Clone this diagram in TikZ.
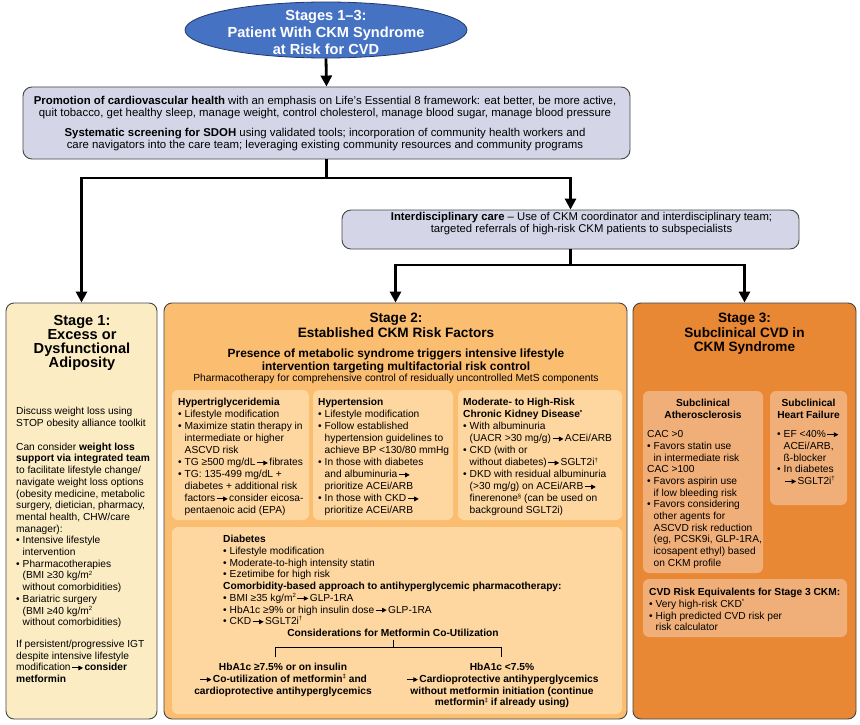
\documentclass[tikz,border=0pt]{standalone}
\usepackage{fontspec}
\setmainfont{Liberation Sans}
\usetikzlibrary{arrows.meta,shapes.geometric}
\definecolor{ellf}{RGB}{70,114,196}
\definecolor{ellb}{RGB}{35,55,105}
\definecolor{mainf}{RGB}{212,214,232}
\definecolor{bordc}{RGB}{70,70,70}
\definecolor{sonef}{RGB}{251,236,196}
\definecolor{stwof}{RGB}{251,189,112}
\definecolor{stwoi}{RGB}{253,214,160}
\definecolor{sthreef}{RGB}{232,135,52}
\definecolor{sthreei}{RGB}{240,175,120}
\newcommand\fbody{\fontsize{10.2pt}{11.7pt}\selectfont}
\newcommand\fbx{\fontsize{10.2pt}{12pt}\selectfont}
\newcommand\fmain{\fontsize{11.4pt}{12pt}\selectfont}
\newcommand\finter{\fontsize{11.3pt}{12pt}\selectfont}
\newcommand\fstage{\fontsize{13.6pt}{14.5pt}\selectfont\bfseries}
\newcommand\fstageone{\fontsize{14.6pt}{14pt}\selectfont\bfseries}
\newcommand\fell{\fontsize{14.6pt}{17pt}\selectfont\bfseries}
\newcommand\fsub{\fontsize{11.9pt}{13pt}\selectfont\bfseries}
\newcommand\fsmall{\fontsize{10.3pt}{12pt}\selectfont}
\newcommand\ra{\kern1pt\tikz[baseline=-0.55ex]\draw[line width=0.9pt,-{Triangle[width=4.6pt,length=4.6pt]}] (0pt,0pt)--(11pt,0pt);\kern1pt}
\newcommand\sps[1]{\raisebox{0.38em}{\fontsize{6pt}{6pt}\selectfont #1}}
\newcommand\bu{\makebox[0.64em][l]{•}}
\newcommand\ii{\hspace*{0.64em}}
\tikzset{
  stagebox/.style={draw=bordc, line width=0.9pt, rounded corners=8pt, inner sep=0pt},
  innerbox/.style={rounded corners=6pt, inner sep=0pt},
  txt/.style={inner sep=0pt, anchor=north west, align=left, font=\fbx},
  ctxt/.style={inner sep=0pt, anchor=north, align=center, font=\fbx},
  conn/.style={line width=2.8pt},
  arr/.style={conn, -{Triangle[width=11pt,length=11pt]}},
}
\begin{document}
\begin{tikzpicture}[x=1pt,y=-1pt]
\useasboundingbox[fill=white] (0,0) rectangle (860,725);

% ---------- top ellipse ----------
\node[ellipse, draw=ellb, fill=ellf, line width=0.8pt, minimum width=282pt, minimum height=56pt, inner sep=0pt] (ell) at (326,30) {};
\node[ctxt, font=\fell, text=white] (ellt) at (326,9.7) {Stages 1–3:\\Patient With CKM Syndrome\\at Risk for CVD};

% ---------- main box ----------
\node[stagebox, fill=mainf, rounded corners=9pt, minimum width=607pt, minimum height=72pt] (main) at (326.5,123) {};
\node[ctxt, font=\fmain] (maint) at (325,95.9) {\textbf{Promotion of cardiovascular health} with an emphasis on Life's Essential 8 framework: eat better, be more active,\\quit tobacco, get healthy sleep, manage weight, control cholesterol, manage blood sugar, manage blood pressure\\[8pt]\textbf{Systematic screening for SDOH} using validated tools; incorporation of community health workers and\\care navigators into the care team; leveraging existing community resources and community programs};

% ---------- interdisciplinary box ----------
\node[stagebox, fill=mainf, rounded corners=9pt, minimum width=457pt, minimum height=39pt] (inter) at (570.5,229.5) {};
\node[ctxt, font=\finter] (intert) at (581.5,211.9) {\textbf{Interdisciplinary care} – Use of CKM coordinator and interdisciplinary team;\\targeted referrals of high-risk CKM patients to subspecialists};

% ---------- stage boxes ----------
\node[stagebox, fill=sonef, minimum width=151pt, minimum height=416pt] (s1) at (81.5,511) {};
\node[stagebox, fill=stwof, minimum width=463pt, minimum height=416pt] (s2) at (395.5,511) {};
\node[stagebox, fill=sthreef, minimum width=223pt, minimum height=416pt] (s3) at (744.5,511) {};

% ---------- connectors ----------
\coordinate (j1) at (326.5,178);
\coordinate (j2) at (570.5,178);
\coordinate (j3) at (570.5,265);
\draw[arr] (ell.south) -- (main.north);
\draw[conn] (main.south) -- (j1);
\draw[arr] (j1) -| (s1.north);
\draw[arr] (j1) -- (j2) -- (inter.north);
\draw[conn] (inter.south) -- (j3);
\draw[arr] (j3) -| (s2.north);
\draw[arr] (j3) -| (s3.north);

% ---------- stage 1 ----------
\node[ctxt, font=\fstageone] (s1t) at (82,314.7) {Stage 1:\\Excess or\\Dysfunctional\\Adiposity};
\node[txt, font=\fbody] (s1b) at (16,407.3) {Discuss weight loss using\\STOP obesity alliance toolkit\\[12pt]Can consider \textbf{weight loss}\\\textbf{support via integrated team}\\to facilitate lifestyle change/\\navigate weight loss options\\(obesity medicine, metabolic\\surgery, dietician, pharmacy,\\mental health, CHW/care\\manager):\\\bu Intensive lifestyle\\\ii intervention\\\bu Pharmacotherapies\\\ii (BMI ≥30 kg/m\sps{2}\\\ii without comorbidities)\\\bu Bariatric surgery\\\ii (BMI ≥40 kg/m\sps{2}\\\ii without comorbidities)\\[10pt]If persistent/progressive IGT\\despite intensive lifestyle\\modification\ra\textbf{consider}\\\textbf{metformin}};

% ---------- stage 2 ----------
\node[ctxt, font=\fstage] (s2t) at (396,313.1) {Stage 2:\\Established CKM Risk Factors};
\node[ctxt, font=\fsub] (s2p) at (396,348.7) {Presence of metabolic syndrome triggers intensive lifestyle\\intervention targeting multifactorial risk control};
\node[ctxt, font=\fsmall] (s2q) at (396,374.3) {Pharmacotherapy for comprehensive control of residually uncontrolled MetS components};

\node[innerbox, fill=stwoi, minimum width=137pt, minimum height=130pt] (b1) at (240.5,455) {};
\node[innerbox, fill=stwoi, minimum width=140pt, minimum height=130pt] (b2) at (383,455) {};
\node[innerbox, fill=stwoi, minimum width=164pt, minimum height=130pt] (b3) at (540,455) {};
\node[innerbox, fill=stwoi, minimum width=450pt, minimum height=187pt] (dia) at (397,620.5) {};

\node[txt] (b1t) at (178,398.3) {\textbf{Hypertriglyceridemia}\\\bu Lifestyle modification\\\bu Maximize statin therapy in\\\ii intermediate or higher\\\ii ASCVD risk\\\bu TG ≥500 mg/dL\ra fibrates\\\bu TG: 135-499 mg/dL +\\\ii diabetes + additional risk\\\ii factors\ra consider eicosa-\\\ii pentaenoic acid (EPA)};
\node[txt] (b2t) at (318,398.3) {\textbf{Hypertension}\\\bu Lifestyle modification\\\bu Follow established\\\ii hypertension guidelines to\\\ii achieve BP <130/80 mmHg\\\bu In those with diabetes\\\ii and albuminuria\ra\\\ii prioritize ACEi/ARB\\\bu In those with CKD\ra\\\ii prioritize ACEi/ARB};
\node[txt] (b3t) at (463,398.3) {\textbf{Moderate- to High-Risk}\\\textbf{Chronic Kidney Disease\sps{*}}\\\bu With albuminuria\\\ii (UACR >30 mg/g)\ra ACEi/ARB\\\bu CKD (with or\\\ii without diabetes)\ra SGLT2i\sps{†}\\\bu DKD with residual albuminuria\\\ii (>30 mg/g) on ACEi/ARB\ra\\\ii finerenone\sps{§} (can be used on\\\ii background SGLT2i)};

\node[txt, font=\fbody] (diat) at (223,535.3) {\textbf{Diabetes}\\\bu Lifestyle modification\\\bu Moderate-to-high intensity statin\\\bu Ezetimibe for high risk\\\textbf{Comorbidity-based approach to antihyperglycemic pharmacotherapy:}\\\bu BMI ≥35 kg/m\sps{2}\ra GLP-1RA\\\bu HbA1c ≥9\% or high insulin dose\ra GLP-1RA\\\bu CKD\ra SGLT2i\sps{†}};
\node[ctxt, font=\fbody\bfseries] (cons) at (393,629.3) {Considerations for Metformin Co-Utilization};
\draw[line width=1pt] (393,640) -- (393,647);
\draw[line width=1pt] (275,657) -- (275,647) -- (501,647) -- (501,657);
\node[ctxt, font=\fbody\bfseries] (left) at (283,663.3) {HbA1c ≥7.5\% or on insulin\\\ra Co-utilization of metformin\sps{‡} and\\cardioprotective antihyperglycemics};
\node[ctxt, font=\fbody\bfseries] (right) at (502,663.3) {HbA1c <7.5\%\\\ra Cardioprotective antihyperglycemics\\without metformin initiation (continue\\metformin\sps{‡} if already using)};

% ---------- stage 3 ----------
\node[ctxt, font=\fstage] (s3t) at (744.5,313.1) {Stage 3:\\Subclinical CVD in\\CKM Syndrome};
\node[innerbox, fill=sthreei, minimum width=120pt, minimum height=182pt] (sa) at (703,482) {};
\node[innerbox, fill=sthreei, minimum width=77pt, minimum height=114pt] (hf) at (808.5,448) {};
\node[innerbox, fill=sthreei, minimum width=204pt, minimum height=58pt] (cvd) at (745,608) {};
\node[ctxt, font=\fbx\bfseries] (sat) at (703,399.3) {Subclinical\\Atherosclerosis};
\node[txt, font=\fbody] (sab) at (647,430.3) {CAC >0\\\bu Favors statin use\\\ii in intermediate risk\\CAC >100\\\bu Favors aspirin use\\\ii if low bleeding risk\\\bu Favors considering\\\ii other agents for\\\ii ASCVD risk reduction\\\ii (eg, PCSK9i, GLP-1RA,\\\ii icosapent ethyl) based\\\ii on CKM profile};
\node[ctxt, font=\fbx\bfseries] (hft) at (808.5,399.3) {Subclinical\\Heart Failure};
\node[txt, font=\fbody] (hfb) at (777,430.3) {\bu EF <40\%\ra\\\ii ACEi/ARB,\\\ii ß-blocker\\\bu In diabetes\\\ii\ra SGLT2i\sps{†}};
\node[txt, font=\fbody] (cvdt) at (649,588.3) {\textbf{CVD Risk Equivalents for Stage 3 CKM:}\\\bu Very high-risk CKD\sps{*}\\\bu High predicted CVD risk per\\\ii risk calculator};
\end{tikzpicture}
\end{document}
